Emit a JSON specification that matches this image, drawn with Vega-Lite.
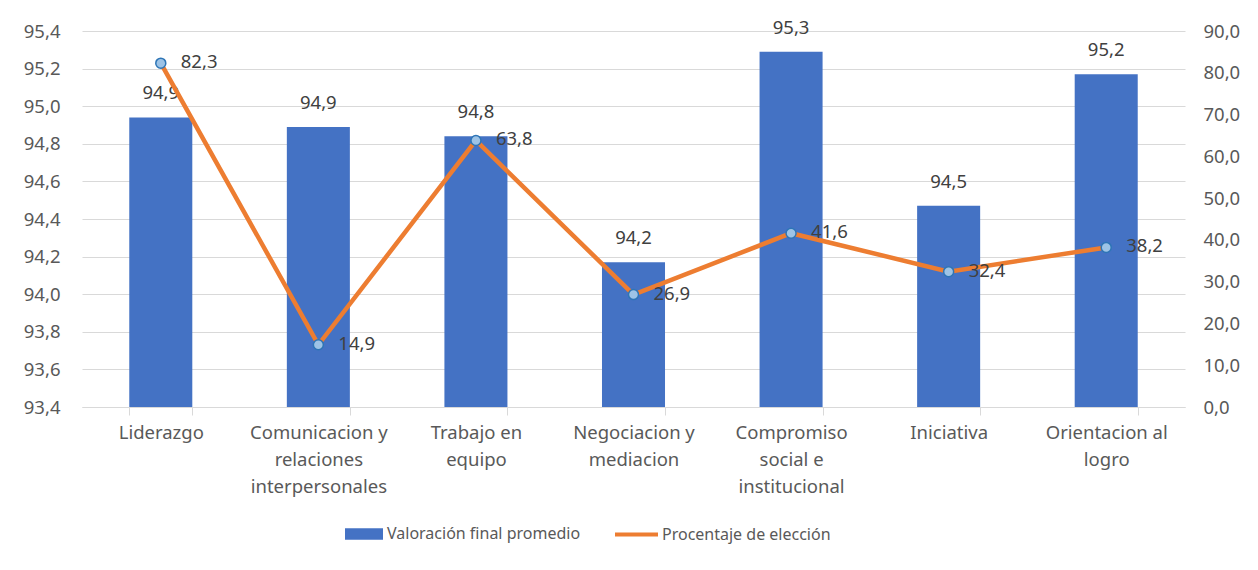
{
  "$schema": "https://vega.github.io/schema/vega-lite/v6.json",
  "autosize": "none",
  "width": 1103,
  "height": 376,
  "padding": {"left": 82, "top": 31, "right": 73, "bottom": 163},
  "background": "white",
  "config": {
    "locale": {"number": {"decimal": ",", "thousands": ".", "grouping": [3], "currency": ["", " €"]}},
    "view": {"stroke": null},
    "font": "Noto Sans",
    "axis": {"labelFont": "Noto Sans", "labelFontSize": 18.5, "labelColor": "#595959", "gridColor": "#d9d9d9", "gridWidth": 1, "domainColor": "#d9d9d9", "tickColor": "#d9d9d9", "title": null, "labelOverlap": false, "labelLimit": 400},
    "legend": {"labelFont": "Noto Sans", "labelFontSize": 16, "labelColor": "#595959", "padding": 0, "title": null, "labelLimit": 400}
  },
  "data": {
    "values": [
      {"cat": "Liderazgo", "valor": 94.94, "pct": 82.3},
      {"cat": "Comunicacion y\nrelaciones\ninterpersonales", "valor": 94.89, "pct": 14.9},
      {"cat": "Trabajo en\nequipo", "valor": 94.84, "pct": 63.8},
      {"cat": "Negociacion y\nmediacion", "valor": 94.17, "pct": 26.9},
      {"cat": "Compromiso\nsocial e\ninstitucional", "valor": 95.29, "pct": 41.6},
      {"cat": "Iniciativa", "valor": 94.47, "pct": 32.4},
      {"cat": "Orientacion al\nlogro", "valor": 95.17, "pct": 38.2}
    ]
  },
  "encoding": {
    "x": {
      "field": "cat", "type": "nominal", "sort": null,
      "scale": {"paddingInner": 0.6, "paddingOuter": 0.3},
      "axis": {"labelAngle": 0, "labelExpr": "split(datum.label, '\\n')", "labelLineHeight": 27, "tickBand": "extent", "tickSize": 8, "labelPadding": 8, "domain": true, "grid": false, "labelBaseline": "top"}
    }
  },
  "layer": [
    {
      "layer": [
        {
          "mark": {"type": "bar"},
          "encoding": {
            "y": {"field": "valor", "type": "quantitative", "scale": {"domain": [93.4, 95.4], "zero": false, "nice": false},
              "axis": {"orient": "left", "values": [93.4, 93.6, 93.8, 94.0, 94.2, 94.4, 94.6, 94.8, 95.0, 95.2, 95.4], "tickCount": 20, "format": ".1f", "ticks": false, "tickSize": 0, "labelPadding": 22, "domain": false, "grid": true}},
            "y2": {"datum": 93.4},
            "fill": {"datum": "Valoración final promedio", "type": "nominal",
              "scale": {"range": ["#4472C4"]},
              "legend": {"orient": "none", "legendX": 263, "legendY": 484, "symbolType": "M-1,-0.3L1,-0.3L1,0.3L-1,0.3Z", "symbolSize": 1444, "symbolStrokeWidth": 0, "labelOffset": 4}}
          }
        },
        {
          "mark": {"type": "text", "baseline": "alphabetic", "dy": -18, "fontSize": 18.5, "color": "#404040", "font": "Noto Sans"},
          "encoding": {
            "y": {"field": "valor", "type": "quantitative"},
            "text": {"field": "valor", "type": "quantitative", "format": ".1f"}
          }
        }
      ]
    },
    {
      "layer": [
        {
          "mark": {"type": "line", "strokeWidth": 4.5, "color": "#ED7D31"},
          "encoding": {
            "y": {"field": "pct", "type": "quantitative", "scale": {"domain": [0, 90], "nice": false},
              "axis": {"orient": "right", "values": [0, 10, 20, 30, 40, 50, 60, 70, 80, 90], "tickCount": 20, "format": ".1f", "ticks": false, "tickSize": 0, "labelPadding": 18, "domain": false, "grid": false}},
            "stroke": {"datum": "Procentaje de elección", "type": "nominal",
              "scale": {"range": ["#ED7D31"]},
              "legend": {"orient": "none", "legendX": 531, "legendY": 480, "symbolType": "stroke", "symbolSize": 1849, "symbolStrokeWidth": 4, "labelOffset": 2}}
          }
        },
        {
          "mark": {"type": "point", "shape": "circle", "filled": true, "size": 100, "fill": "#9DC3E6", "stroke": "#2E75B6", "strokeWidth": 1.5, "opacity": 1},
          "encoding": {
            "y": {"field": "pct", "type": "quantitative"}
          }
        },
        {
          "mark": {"type": "text", "align": "left", "baseline": "middle", "dx": 20, "dy": -1, "fontSize": 18.5, "color": "#404040", "font": "Noto Sans"},
          "encoding": {
            "y": {"field": "pct", "type": "quantitative"},
            "text": {"field": "pct", "type": "quantitative", "format": ".1f"}
          }
        }
      ]
    }
  ],
  "resolve": {"scale": {"y": "independent", "fill": "independent", "stroke": "independent"}, "legend": {"fill": "independent", "stroke": "independent"}}
}
